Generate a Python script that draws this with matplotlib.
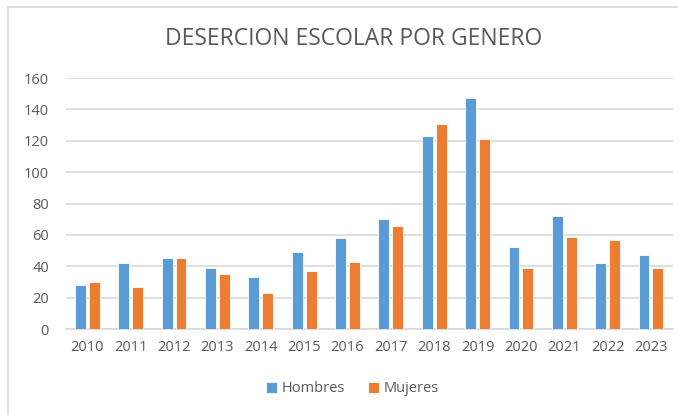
import matplotlib
matplotlib.use("Agg")
import matplotlib.pyplot as plt
from matplotlib.patches import Rectangle
import numpy as np

plt.rcParams.update({
    "font.family": ["Open Sans", "DejaVu Sans"],
    "text.color": "#595959",
    "xtick.color": "#595959",
    "ytick.color": "#595959",
})

YEARS = ["2010", "2011", "2012", "2013", "2014", "2015", "2016",
         "2017", "2018", "2019", "2020", "2021", "2022", "2023"]
HOMBRES = [28, 42, 45, 39, 33, 49, 58, 70, 123, 147, 52, 72, 42, 47]
MUJERES = [30, 27, 45, 35, 23, 37, 43, 66, 131, 121, 39, 59, 57, 39]

BLUE = "#5B9BD5"
ORANGE = "#ED7D31"
GRID = "#D9D9D9"

fig = plt.figure(figsize=(6.78, 4.15), dpi=100)
ax = fig.add_axes([0.097, 0.207, 0.895, 0.605])

x = np.arange(len(YEARS))
bw = 0.25
ax.bar(x - 0.16, HOMBRES, width=bw, color=BLUE, edgecolor="white",
       linewidth=0.6, label="Hombres", zorder=3)
ax.bar(x + 0.16, MUJERES, width=bw, color=ORANGE, edgecolor="white",
       linewidth=0.6, label="Mujeres", zorder=3)

ax.set_xlim(-0.5, len(YEARS) - 0.5)
ax.set_ylim(0, 160)
ax.set_yticks(range(0, 161, 20))
ax.set_xticks(x)
ax.set_xticklabels(YEARS)
ax.tick_params(length=0, labelsize=10.5, pad=8)
ax.tick_params(axis="y", pad=12)
ax.yaxis.grid(True, color=GRID, linewidth=1.2, zorder=0)
for s in ("top", "right", "left"):
    ax.spines[s].set_visible(False)
ax.spines["bottom"].set_color(GRID)
ax.spines["bottom"].set_linewidth(1.2)

fig.text(0.522, 0.905, "DESERCION ESCOLAR POR GENERO", ha="center",
         va="center", fontsize=16.5, color="#595959")

fig.legend(loc="center", bbox_to_anchor=(0.52, 0.063), ncol=2,
           frameon=False, fontsize=10.5, handlelength=0.75, handleheight=0.75,
           handletextpad=0.3, columnspacing=1.6)

fig.patches.append(Rectangle((8 / 678, -0.05), 1.05, 1.05 - 7 / 415,
                             transform=fig.transFigure, fill=False,
                             edgecolor=GRID, linewidth=1.2))

fig.savefig("out.png", dpi=100)
